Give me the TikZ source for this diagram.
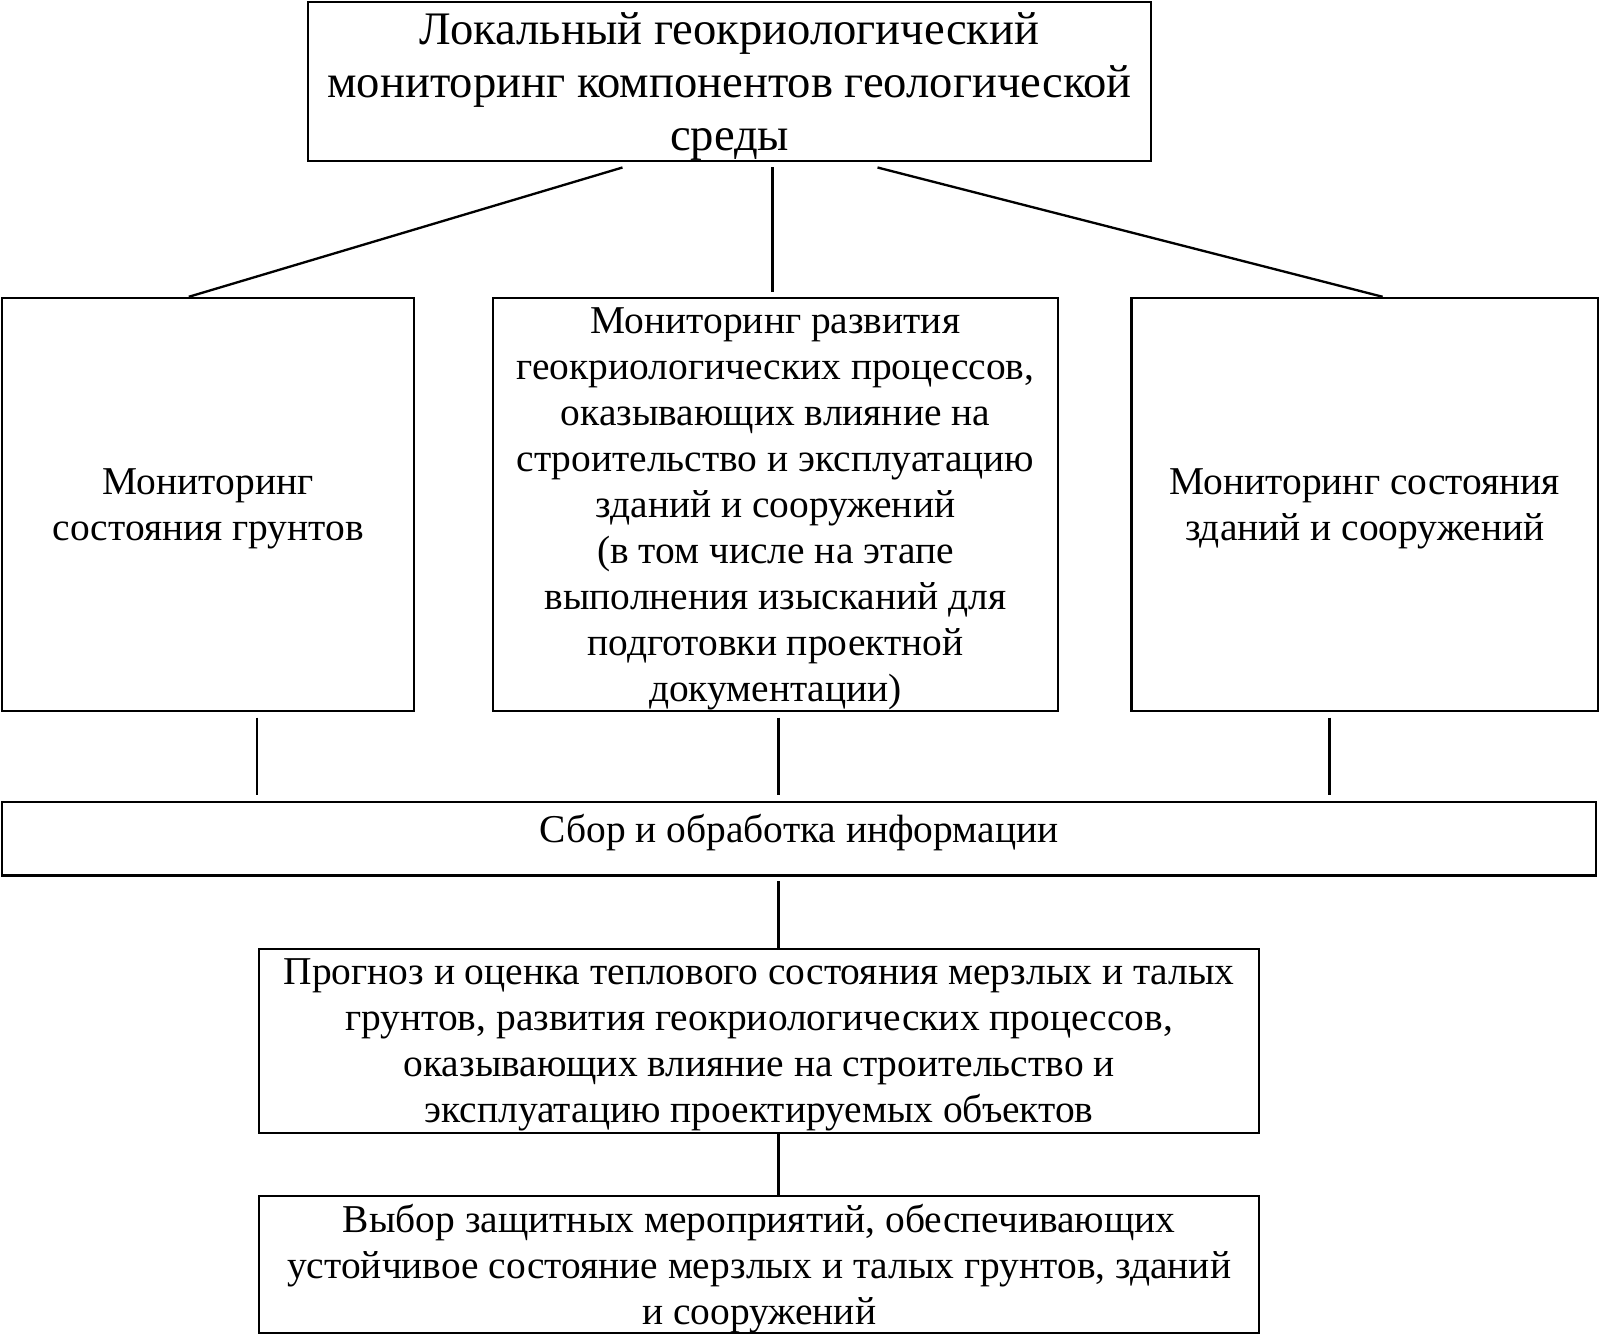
\documentclass[tikz,border=0pt]{standalone}
\usepackage{fontspec}
\setmainfont{Liberation Serif}
\usetikzlibrary{positioning}

\begin{document}
\begin{tikzpicture}[
x=0.02cm,
y=-0.02cm,
box/.style={
	draw,
	line width=1.3pt,
	align=center,
	inner sep=0pt,
	text depth=-2.6pt,
	font=\fontsize{22}{25.6}\selectfont
},
link/.style={
	line width=1.3pt
}
]
\useasboundingbox (0,0) rectangle (1568,1309.3);

\node[box,minimum width=826*0.02cm,minimum height=156*0.02cm,
	font=\fontsize{26}{29.6}\selectfont] (top) at (715,80)
	{Локальный геокриологический\\мониторинг компонентов геологической\\среды};

\node[box,minimum width=404*0.02cm,minimum height=405*0.02cm] (soil) at (204,494.5)
	{Мониторинг\\состояния грунтов};
\node[box,minimum width=554*0.02cm,minimum height=405*0.02cm] (proc) at (760,494.5)
	{Мониторинг развития\\геокриологических процессов,\\оказывающих влияние на\\строительство и эксплуатацию\\зданий и сооружений\\(в том числе на этапе\\выполнения изысканий для\\подготовки проектной\\документации)};
\node[box,minimum width=457*0.02cm,minimum height=405*0.02cm] (bldg) at (1337.5,494.5)
	{Мониторинг состояния\\зданий и сооружений};

\node[box,minimum width=1562*0.02cm,minimum height=72*0.02cm,text depth=11.6pt] (info) at (783,822)
	{Сбор и обработка информации};
\node[box,minimum width=980*0.02cm,minimum height=180*0.02cm] (prog) at (744,1020)
	{Прогноз и оценка теплового состояния мерзлых и талых\\грунтов, развития геокриологических процессов,\\оказывающих влияние на строительство и\\эксплуатацию проектируемых объектов};
\node[box,minimum width=980*0.02cm,minimum height=134*0.02cm] (choice) at (744,1239)
	{Выбор защитных мероприятий, обеспечивающих\\устойчивое состояние мерзлых и талых грунтов, зданий\\и сооружений};

% top to the three monitoring boxes
\draw[link] ([xshift=-2.1cm,yshift=-0.1cm]top.south) -- ([xshift=-0.38cm]soil.north);
\draw[link] ([xshift=0.84cm,yshift=-0.1cm]top.south) -- ([xshift=0.84cm,yshift=0.1cm]top.south |- proc.north);
\draw[link] ([xshift=2.9cm,yshift=-0.1cm]top.south) -- ([xshift=0.35cm]bldg.north);

% down to the information box
\foreach \n/\dx in {soil/0.96cm,proc/0.06cm,bldg/-0.69cm}
\draw[link,shorten <=0.1cm,shorten >=0.12cm] ([xshift=\dx]\n.south) coordinate (\n-b) -- (\n-b |- info.north);

\draw[link,shorten >=0.08cm] ([xshift=0.38cm]prog.north) coordinate (p1) -- (p1 |- info.south);
\draw[link] ([xshift=0.38cm]choice.north) coordinate (c1) -- (c1 |- prog.south);
\end{tikzpicture}
\end{document}
